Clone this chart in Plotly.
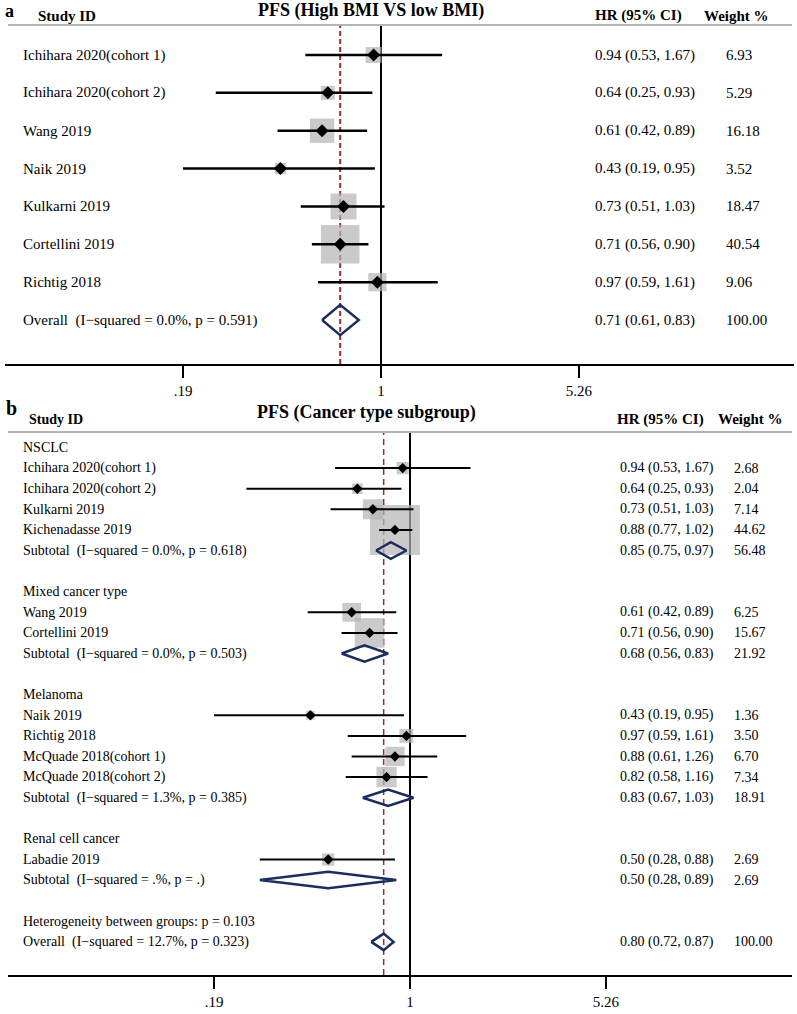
import plotly.graph_objects as go
import math

W, H = 797, 1014
SERIF = "Liberation Serif"

# ---------------- Panel a data ----------------
study_a = ["Ichihara 2020(cohort 1)", "Ichihara 2020(cohort 2)", "Wang 2019", "Naik 2019",
           "Kulkarni 2019", "Cortellini 2019", "Richtig 2018"]
hr_a = [0.94, 0.64, 0.61, 0.43, 0.73, 0.71, 0.97]
lo_a = [0.53, 0.25, 0.42, 0.19, 0.51, 0.56, 0.59]
hi_a = [1.67, 0.93, 0.89, 0.95, 1.03, 0.90, 1.61]
wt_a = [6.93, 5.29, 16.18, 3.52, 18.47, 40.54, 9.06]
overall_label_a = "Overall  (I−squared = 0.0%, p = 0.591)"
overall_hr_a, overall_lo_a, overall_hi_a, overall_wt_a = 0.71, 0.61, 0.83, 100.00

# ---------------- Panel b data ----------------
kind_b = ["head", "study", "study", "study", "study", "sub", "blank",
          "head", "study", "study", "sub", "blank",
          "head", "study", "study", "study", "study", "sub", "blank",
          "head", "study", "sub", "blank",
          "text", "overall"]
label_b = ["NSCLC", "Ichihara 2020(cohort 1)", "Ichihara 2020(cohort 2)", "Kulkarni 2019",
           "Kichenadasse 2019", "Subtotal  (I−squared = 0.0%, p = 0.618)", "",
           "Mixed cancer type", "Wang 2019", "Cortellini 2019",
           "Subtotal  (I−squared = 0.0%, p = 0.503)", "",
           "Melanoma", "Naik 2019", "Richtig 2018", "McQuade 2018(cohort 1)", "McQuade 2018(cohort 2)",
           "Subtotal  (I−squared = 1.3%, p = 0.385)", "",
           "Renal cell cancer", "Labadie 2019", "Subtotal  (I−squared = .%, p = .)", "",
           "Heterogeneity between groups: p = 0.103", "Overall  (I−squared = 12.7%, p = 0.323)"]
hr_b = [None, 0.94, 0.64, 0.73, 0.88, 0.85, None,
        None, 0.61, 0.71, 0.68, None,
        None, 0.43, 0.97, 0.88, 0.82, 0.83, None,
        None, 0.50, 0.50, None,
        None, 0.80]
lo_b = [None, 0.53, 0.25, 0.51, 0.77, 0.75, None,
        None, 0.42, 0.56, 0.56, None,
        None, 0.19, 0.59, 0.61, 0.58, 0.67, None,
        None, 0.28, 0.28, None,
        None, 0.72]
hi_b = [None, 1.67, 0.93, 1.03, 1.02, 0.97, None,
        None, 0.89, 0.90, 0.83, None,
        None, 0.95, 1.61, 1.26, 1.16, 1.03, None,
        None, 0.88, 0.89, None,
        None, 0.87]
wt_b = [None, 2.68, 2.04, 7.14, 44.62, 56.48, None,
        None, 6.25, 15.67, 21.92, None,
        None, 1.36, 3.50, 6.70, 7.34, 18.91, None,
        None, 2.69, 2.69, None,
        None, 100.00]

tick_vals = [0.19, 1, 5.26]
tick_text = [".19", "1", "5.26"]

# ---------------- Layout geometry (pixels) ----------------
def py(p):
    return 1 - p / H

def pxx(p):
    return p / W

# panel a
A_top, A_bot, A_row1, A_step = 25, 364, 55, 37.86
A_x0, A_x1, A_one, A_ln = 5, 794, 381, 119.2
# panel b
B_top, B_bot, B_row1, B_step = 432, 975, 447.5, 20.6
B_x0, B_x1, B_one, B_ln = 8, 792, 410, 118.0


def yrange(top, bot, row1, step):
    return [1 + (bot - row1) / step, 1 + (top - row1) / step]


def xrange(x0, x1, one, ln_px):
    per10 = ln_px * math.log(10)
    return [(x0 - one) / per10, (x1 - one) / per10]


fig = go.Figure()

GRAY = "#b4b4b4"
NAVY = "#1c2c5e"
RED = "#a3282c"


def add_panel(xa, ya, yr, ref_hr, rows, box_k, ci_w, dot_size, dash, red_w):
    # reference lines first (drawn beneath boxes)
    fig.add_trace(go.Scatter(x=[1, 1], y=yr, mode="lines", line=dict(color="black", width=2),
                             xaxis=xa, yaxis=ya, hoverinfo="skip", showlegend=False))
    fig.add_trace(go.Scatter(x=[ref_hr, ref_hr], y=yr, mode="lines",
                             line=dict(color=RED, width=red_w, dash=dash),
                             xaxis=xa, yaxis=ya, hoverinfo="skip", showlegend=False))
    studies = [r for r in rows if r[0] == "study"]
    # boxes
    fig.add_trace(go.Scatter(x=[r[2] for r in studies], y=[r[1] for r in studies], mode="markers",
                             marker=dict(symbol="square", color=GRAY,
                                         size=[box_k * math.sqrt(r[5]) for r in studies],
                                         line=dict(width=0)),
                             xaxis=xa, yaxis=ya, hoverinfo="skip", showlegend=False))
    # CI lines
    xs, ys = [], []
    for r in studies:
        xs += [r[3], r[4], None]
        ys += [r[1], r[1], None]
    fig.add_trace(go.Scatter(x=xs, y=ys, mode="lines", line=dict(color="black", width=ci_w),
                             xaxis=xa, yaxis=ya, hoverinfo="skip", showlegend=False))
    # point estimates
    fig.add_trace(go.Scatter(x=[r[2] for r in studies], y=[r[1] for r in studies], mode="markers",
                             marker=dict(symbol="diamond", color="black", size=dot_size),
                             xaxis=xa, yaxis=ya, hoverinfo="skip", showlegend=False))
    # pooled diamonds
    for r in rows:
        if r[0] in ("sub", "overall"):
            y0 = r[1]
            fig.add_trace(go.Scatter(x=[r[3], r[2], r[4], r[2], r[3]],
                                     y=[y0, y0 - 0.4, y0, y0 + 0.4, y0], mode="lines",
                                     line=dict(color=NAVY, width=2.5),
                                     xaxis=xa, yaxis=ya, hoverinfo="skip", showlegend=False))


# panel a rows: (kind, rowindex, hr, lo, hi, wt)
rows_a = [("study", i + 1, hr_a[i], lo_a[i], hi_a[i], wt_a[i]) for i in range(len(study_a))]
rows_a.append(("overall", len(study_a) + 1, overall_hr_a, overall_lo_a, overall_hi_a, overall_wt_a))
yr_a = yrange(A_top, A_bot, A_row1, A_step)
add_panel("x", "y", yr_a, overall_hr_a, rows_a, 6.05, 2.5, 10, "5px,3px", 2)

rows_b = [(kind_b[i], i + 1, hr_b[i], lo_b[i], hi_b[i], wt_b[i]) for i in range(len(kind_b))]
yr_b = yrange(B_top, B_bot, B_row1, B_step)
add_panel("x2", "y2", yr_b, hr_b[-1], rows_b, 7.48, 2, 8, "6px,4px", 1.5)

ann = []


def txt(x, y, s, size, yref="paper", bold=False, xanchor="left"):
    ann.append(dict(x=x, y=y, xref="paper", yref=yref, text=("<b>%s</b>" % s) if bold else s,
                    showarrow=False, xanchor=xanchor, yanchor="middle",
                    font=dict(family=SERIF, size=size, color="black")))


# panel a text
labels_a = study_a + [overall_label_a]
for r, lab in zip(rows_a, labels_a):
    txt(pxx(21), r[1], lab, 15, yref="y")
    txt(pxx(593), r[1], "%.2f (%.2f, %.2f)" % (r[2], r[3], r[4]), 15, yref="y")
    txt(pxx(724), r[1], "%.2f" % r[5], 15, yref="y")

txt(pxx(3), py(11), "a", 18, bold=True)
txt(pxx(36), py(16), "Study ID", 15, bold=True)
txt(pxx(371), py(10), "PFS (High BMI VS low BMI)", 18, bold=True, xanchor="center")
txt(pxx(593), py(16), "HR (95% CI)", 15, bold=True)
txt(pxx(702), py(16), "Weight %", 15, bold=True)

# panel b text
for r, lab in zip(rows_b, label_b):
    if lab:
        txt(pxx(21), r[1], lab, 14, yref="y2")
    if r[2] is not None:
        txt(pxx(618), r[1], "%.2f (%.2f, %.2f)" % (r[2], r[3], r[4]), 14, yref="y2")
        txt(pxx(732), r[1], "%.2f" % r[5], 14, yref="y2")

txt(pxx(4), py(408), "b", 20, bold=True)
txt(pxx(27), py(419), "Study ID", 14, bold=True)
txt(pxx(366), py(413), "PFS (Cancer type subgroup)", 18, bold=True, xanchor="center")
txt(pxx(615), py(419), "HR (95% CI)", 15, bold=True)
txt(pxx(716), py(419), "Weight %", 15, bold=True)

shapes = [
    dict(type="line", xref="paper", yref="paper", x0=pxx(8), x1=pxx(792), y0=py(A_top), y1=py(A_top),
         line=dict(color=GRAY, width=2)),
    dict(type="line", xref="paper", yref="paper", x0=pxx(8), x1=pxx(792), y0=py(B_top), y1=py(B_top),
         line=dict(color=GRAY, width=2)),
]

xcommon = dict(type="log", showline=True, linecolor="black", linewidth=2, ticks="outside",
               ticklen=12, tickwidth=2, tickcolor="black", tickvals=tick_vals, ticktext=tick_text,
               tickfont=dict(family=SERIF, size=15, color="black"), showgrid=False, zeroline=False,
               fixedrange=True)
ycommon = dict(visible=False, showgrid=False, zeroline=False, fixedrange=True)

fig.update_layout(
    width=W, height=H, margin=dict(l=0, r=0, t=0, b=0), autosize=False,
    paper_bgcolor="white", plot_bgcolor="white", showlegend=False,
    xaxis=dict(domain=[pxx(A_x0), pxx(A_x1)], range=xrange(A_x0, A_x1, A_one, A_ln), anchor="y",
               **xcommon),
    yaxis=dict(domain=[py(A_bot), py(A_top)], range=yr_a, anchor="x", **ycommon),
    xaxis2=dict(domain=[pxx(B_x0), pxx(B_x1)], range=xrange(B_x0, B_x1, B_one, B_ln), anchor="y2",
                **xcommon),
    yaxis2=dict(domain=[py(B_bot), py(B_top)], range=yr_b, anchor="x2", **ycommon),
    annotations=ann, shapes=shapes,
)

fig.write_html("out.html", config={"displayModeBar": False},
               post_script="document.body.style.margin='0';document.body.style.overflow='hidden';")
